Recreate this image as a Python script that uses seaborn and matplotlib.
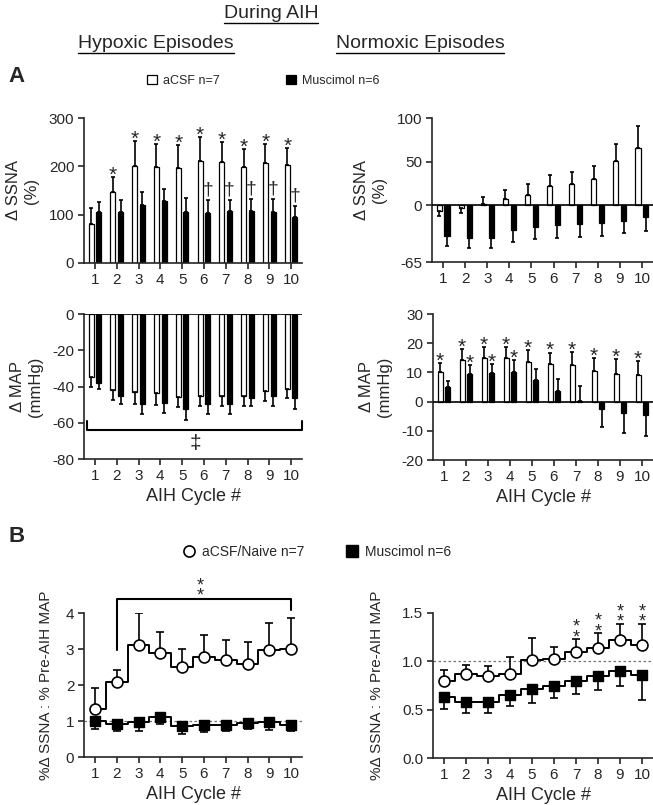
import matplotlib
matplotlib.use("Agg")
import matplotlib.pyplot as plt
import pandas as pd
import seaborn as sns
from matplotlib.lines import Line2D
from matplotlib.patches import Patch

cycles = list(range(1, 11))
groups = ["aCSF n=7", "Muscimol n=6"]

# A, hypoxic episodes: delta SSNA (%)
hyp_ssna_acsf = [81, 146, 201, 198, 197, 212, 209, 199, 206, 203]
hyp_ssna_acsf_sem = [33, 31, 51, 49, 47, 48, 41, 37, 40, 35]
hyp_ssna_mus = [106, 106, 119, 129, 106, 103, 107, 108, 106, 96]
hyp_ssna_mus_sem = [20, 25, 28, 25, 28, 28, 24, 25, 26, 21]

# A, normoxic episodes: delta SSNA (%)
norm_ssna_acsf = [-7, -3, 1, 7, 12, 22, 24, 30, 51, 66]
norm_ssna_acsf_sem = [5, 6, 8.5, 10, 12, 13, 14, 15, 19, 25]
norm_ssna_mus = [-35, -37, -37, -28, -25, -23, -22, -20, -18, -13]
norm_ssna_mus_sem = [12, 12, 12, 14, 14, 15, 14, 15, 14, 16]

# A, hypoxic episodes: delta MAP (mmHg)
hyp_map_acsf = [-35.0, -41.8, -43.3, -43.6, -46.0, -45.0, -45.0, -45.5, -42.7, -41.4]
hyp_map_acsf_sem = [5.5, 5.9, 6.4, 6.4, 5.4, 5.6, 5.5, 5.0, 5.2, 5.2]
hyp_map_mus = [-37.8, -45.3, -49.7, -49.2, -52.3, -49.7, -49.7, -46.4, -45.5, -46.4]
hyp_map_mus_sem = [3.5, 4.4, 5.3, 5.3, 6.1, 5.5, 5.3, 4.6, 5.5, 5.9]

# A, normoxic episodes: delta MAP (mmHg)
norm_map_acsf = [10.0, 14.2, 14.9, 14.8, 13.7, 12.9, 12.6, 10.6, 9.5, 9.0]
norm_map_acsf_sem = [3.2, 3.8, 3.8, 3.9, 3.9, 3.9, 4.4, 4.2, 5.0, 5.0]
norm_map_mus = [4.9, 9.4, 9.8, 10.3, 7.4, 3.5, 0.2, -2.4, -3.8, -4.6]
norm_map_mus_sem = [2.3, 3.0, 3.1, 4.0, 3.9, 4.4, 5.2, 6.2, 6.8, 7.2]

# B: SSNA:MAP ratio
b_groups = ["aCSF/Naive n=7", "Muscimol n=6"]
ratio_hyp_acsf = [1.34, 2.07, 3.11, 2.89, 2.49, 2.78, 2.69, 2.59, 2.96, 3.00]
ratio_hyp_acsf_sem = [0.57, 0.34, 0.88, 0.58, 0.51, 0.60, 0.55, 0.61, 0.76, 0.85]
ratio_hyp_mus = [1.01, 0.93, 0.97, 1.11, 0.85, 0.90, 0.89, 0.94, 0.96, 0.88]
ratio_hyp_mus_sem = [0.23, 0.21, 0.24, 0.20, 0.20, 0.20, 0.16, 0.15, 0.20, 0.16]
ratio_norm_acsf = [0.80, 0.87, 0.85, 0.87, 1.01, 1.02, 1.10, 1.14, 1.22, 1.17]
ratio_norm_acsf_sem = [0.11, 0.09, 0.10, 0.17, 0.23, 0.13, 0.13, 0.15, 0.17, 0.22]
ratio_norm_mus = [0.63, 0.58, 0.58, 0.65, 0.71, 0.75, 0.80, 0.85, 0.90, 0.86]
ratio_norm_mus_sem = [0.12, 0.11, 0.11, 0.11, 0.14, 0.13, 0.14, 0.15, 0.15, 0.26]

sns.set_style("ticks")
plt.rcParams["font.family"] = ["Liberation Sans", "DejaVu Sans"]
plt.rcParams["axes.linewidth"] = 1.2
plt.rcParams["axes.unicode_minus"] = False

W, H = 653, 805
fig = plt.figure(figsize=(W / 100, H / 100), dpi=100)


def px_axes(left, top, right, bottom):
    return fig.add_axes([left / W, 1 - bottom / H, (right - left) / W, (bottom - top) / H])


def mark(ax, x, y, s, size, dy, va="baseline", **kw):
    ax.annotate(s, xy=(x, y), xytext=(0, dy), textcoords="offset points",
                ha="center", va=va, fontsize=size, annotation_clip=False, **kw)


def style_axis(ax, ylabel, labelpad):
    sns.despine(ax=ax)
    ax.tick_params(labelsize=11, length=4, width=1.2, pad=3)
    ax.set_ylabel(ylabel, fontsize=12, labelpad=labelpad, linespacing=1.25)


def bar_panel(ax, acsf, acsf_sem, mus, mus_sem, ylim, yticks, ylabel,
              xlabel=False, zero_line=False, stars_acsf=(), stars_mus=(), daggers=()):
    df = pd.DataFrame({
        "cycle": cycles * 2,
        "value": acsf + mus,
        "group": [groups[0]] * 10 + [groups[1]] * 10,
    })
    sns.barplot(data=df, x="cycle", y="value", hue="group", palette=["white", "black"],
                edgecolor="black", linewidth=0.9, width=0.71, gap=0.35, saturation=1,
                errorbar=None, legend=False, ax=ax)
    values = acsf + mus
    sems = acsf_sem + mus_sem
    tops = []
    for bar, v, s in zip(ax.patches, values, sems):
        x = bar.get_x() + bar.get_width() / 2
        yerr = [[0], [s]] if v >= 0 else [[s], [0]]
        ax.errorbar(x, v, yerr=yerr, fmt="none", ecolor="black", elinewidth=1.2,
                    capsize=1.6, capthick=1.2, zorder=1)
        tops.append((x, v + s if v >= 0 else v))
    for c in stars_acsf:
        x, t = tops[c - 1]
        mark(ax, x, t, "*", 15, -2.7)
    for c in stars_mus:
        x, t = tops[10 + c - 1]
        mark(ax, x, t, "*", 15, -2.7)
    for c in daggers:
        x, t = tops[10 + c - 1]
        mark(ax, x, t, "\u2020", 14, 4.0)
    if zero_line:
        ax.axhline(0, color="black", lw=1.2, zorder=3)
    ax.set_xlim(-0.5, 9.5)
    ax.set_ylim(*ylim)
    ax.set_yticks(yticks)
    style_axis(ax, ylabel, 7)
    ax.set_xlabel("AIH Cycle #" if xlabel else "", fontsize=13, labelpad=4)


def step_panel(ax, acsf, acsf_sem, mus, mus_sem, ylim, yticks, yticklabels, labelpad):
    ax.axhline(1.0, color="0.45", lw=0.9, ls=(0, (2, 2)), zorder=1)
    for vals, sems, up in [(mus, mus_sem, False), (acsf, acsf_sem, True)]:
        sns.lineplot(x=cycles, y=vals, drawstyle="steps-mid", color="black", lw=1.4,
                     ax=ax, zorder=2)
        yerr = [[0] * 10, sems] if up else [sems, [0] * 10]
        ax.errorbar(cycles, vals, yerr=yerr, fmt="none", ecolor="black", elinewidth=1.2,
                    capsize=3.2, capthick=1.2, zorder=3)
    sns.scatterplot(x=cycles, y=mus, marker="s", s=55, color="black", edgecolor="black",
                    linewidth=1, zorder=4, ax=ax)
    sns.scatterplot(x=cycles, y=acsf, marker="o", s=62, color="white", edgecolor="black",
                    linewidth=1.2, zorder=5, ax=ax)
    ax.set_xlim(0.5, 10.5)
    ax.set_xticks(cycles)
    ax.set_ylim(*ylim)
    ax.set_yticks(yticks, yticklabels)
    style_axis(ax, "%\u0394 SSNA : % Pre-AIH MAP", labelpad)
    ax.yaxis.label.set_size(11)
    ax.set_xlabel("AIH Cycle #", fontsize=13, labelpad=4)


# --- panel A ---
ax1 = px_axes(84, 118, 302, 263)
bar_panel(ax1, hyp_ssna_acsf, hyp_ssna_acsf_sem, hyp_ssna_mus, hyp_ssna_mus_sem,
          (0, 300), [0, 100, 200, 300], "\u0394 SSNA\n(%)",
          stars_acsf=range(2, 11), daggers=range(6, 11))

ax2 = px_axes(432, 118, 653, 262)
bar_panel(ax2, norm_ssna_acsf, norm_ssna_acsf_sem, norm_ssna_mus, norm_ssna_mus_sem,
          (-65, 100), [-65, 0, 50, 100], "\u0394 SSNA\n(%)", zero_line=True)

ax3 = px_axes(84, 314, 302, 459)
bar_panel(ax3, hyp_map_acsf, hyp_map_acsf_sem, hyp_map_mus, hyp_map_mus_sem,
          (-80, 0), [-80, -60, -40, -20, 0], "\u0394 MAP\n(mmHg)",
          xlabel=True, zero_line=True)
ax3.plot([-0.35, -0.35, 9.48, 9.48], [-59.3, -63.9, -63.9, -59.3], color="black",
         lw=1.5, clip_on=False)
mark(ax3, 4.6, -71, "\u2021", 15, -4.2)

ax4 = px_axes(433, 314, 653, 460)
bar_panel(ax4, norm_map_acsf, norm_map_acsf_sem, norm_map_mus, norm_map_mus_sem,
          (-20, 30), [-20, -10, 0, 10, 20, 30], "\u0394 MAP\n(mmHg)",
          xlabel=True, zero_line=True, stars_acsf=range(1, 11), stars_mus=(2, 3, 4))

# --- panel B ---
ax5 = px_axes(84, 613, 302, 757)
step_panel(ax5, ratio_hyp_acsf, ratio_hyp_acsf_sem, ratio_hyp_mus, ratio_hyp_mus_sem,
           (0, 4), [0, 1, 2, 3, 4], ["0", "1", "2", "3", "4"], 9)
ax5.plot([2, 2, 10, 10], [2.97, 4.39, 4.39, 4.08], color="black", lw=1.5, clip_on=False)
mark(ax5, 5.82, 4.61, "*\n*", 13, -10.0, va="bottom", linespacing=0.5)

ax6 = px_axes(433, 613, 653, 758)
step_panel(ax6, ratio_norm_acsf, ratio_norm_acsf_sem, ratio_norm_mus, ratio_norm_mus_sem,
           (0, 1.5), [0, 0.5, 1.0, 1.5], ["0.0", "0.5", "1.0", "1.5"], 13)
for c in (7, 8, 9, 10):
    top = ratio_norm_acsf[c - 1] + ratio_norm_acsf_sem[c - 1]
    mark(ax6, c, top, "*\n*", 13, -5.0, va="bottom", linespacing=0.5)

# --- headers, legends, letters ---
titles = [
    fig.text(271 / W, 1 - 14 / H, "During AIH", ha="center", va="center", fontsize=14),
    fig.text(156 / W, 1 - 44 / H, "Hypoxic Episodes", ha="center", va="center", fontsize=14),
    fig.text(420 / W, 1 - 44 / H, "Normoxic Episodes", ha="center", va="center", fontsize=14),
]
fig.text(8 / W, 1 - 77 / H, "A", fontsize=16, fontweight="bold", va="center")
fig.text(8 / W, 1 - 536 / H, "B", fontsize=16, fontweight="bold", va="center")

a_handles = [Patch(facecolor="white", edgecolor="black", lw=0.9),
             Patch(facecolor="black", edgecolor="black", lw=0.9)]
fig.legend(a_handles, groups, loc="center left", bbox_to_anchor=(147 / W, 1 - 81 / H),
           ncol=2, frameon=False, fontsize=9, handlelength=0.8, handleheight=0.8,
           handletextpad=0.5, columnspacing=5.3, borderaxespad=0, borderpad=0)

b_handles = [Line2D([], [], ls="none", marker="o", ms=8, mfc="white", mec="black", mew=1.2),
             Line2D([], [], ls="none", marker="s", ms=8, mfc="black", mec="black")]
fig.legend(b_handles, b_groups, loc="center left", bbox_to_anchor=(182 / W, 1 - 552 / H),
           ncol=2, frameon=False, fontsize=10, handlelength=1.0,
           handletextpad=0.45, columnspacing=2.9, borderaxespad=0, borderpad=0)

fig.canvas.draw()
renderer = fig.canvas.get_renderer()
for t in titles:
    bb = t.get_window_extent(renderer)
    fig.add_artist(Line2D([bb.x0 / W, bb.x1 / W], [(bb.y0 - 1) / H] * 2,
                          color="black", lw=1.0))

fig.savefig("out.png", dpi=100)
